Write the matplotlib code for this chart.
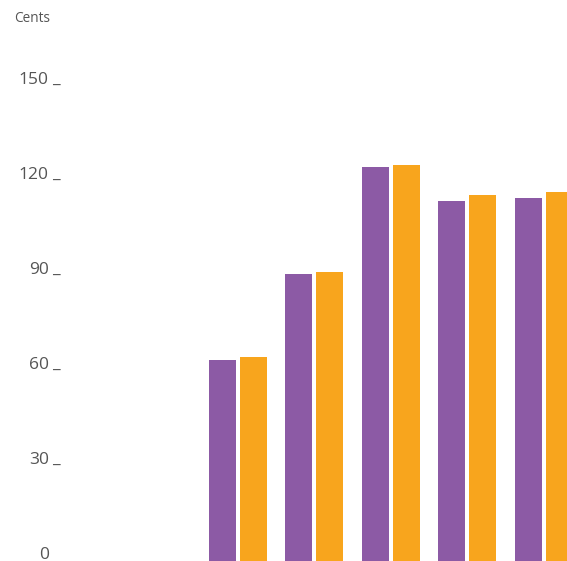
import matplotlib.pyplot as plt
import numpy as np

# cents per unit, two series per group
purple_vals = [63.6, 90.8, 124.6, 113.8, 114.8]
orange_vals = [64.3, 91.4, 125.2, 115.7, 116.7]
yticks = [0, 30, 60, 90, 120, 150]

purple = '#8C5AA5'
orange = '#F8A51D'
grey = '#555555'

plt.rcParams['font.family'] = ['Open Sans', 'DejaVu Sans']

fig = plt.figure(figsize=(5.67, 5.61), dpi=100)
ax = fig.add_axes([0, 0, 1, 1])

x = np.arange(len(purple_vals))
w = 0.353
off = 0.2026
ax.bar(x - off, purple_vals, width=w, color=purple)
ax.bar(x + off, orange_vals, width=w, color=orange)

ax.set_xlim(-3.111, 4.301)
ax.set_ylim(0, 177.2)
ax.axis('off')

# value labels on the left, with an underscore marking each level
trans = ax.get_yaxis_transform()
for v in yticks:
    ax.text(48.8 / 567, v + 0.6, str(v), transform=trans, ha='right',
            va='baseline', fontsize=12.5, color=grey)
    if v > 0:
        ax.text(52 / 567, v + 0.6, '_', transform=trans, ha='left',
                va='baseline', fontsize=12.5, color=grey)

ax.text(14 / 567, 1 - 22 / 561, 'Cents', transform=ax.transAxes, ha='left',
        va='baseline', fontsize=9.8, color=grey)

fig.savefig('out.png', dpi=100)
